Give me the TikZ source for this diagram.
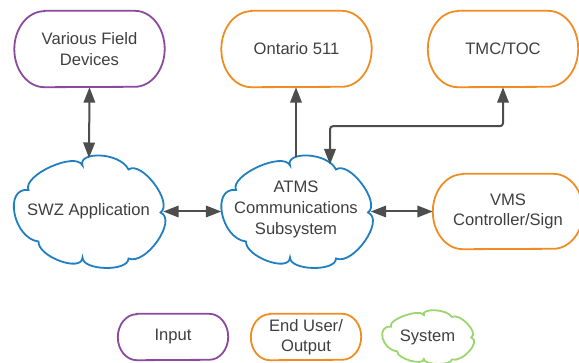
\documentclass[tikz,border=0pt]{standalone}
\usepackage{fontspec}
\setmainfont{Liberation Sans}
\usetikzlibrary{arrows.meta,calc}

\definecolor{inputpurple}{HTML}{8B4A9C}
\definecolor{userorange}{HTML}{EF8D22}
\definecolor{sysblue}{HTML}{1F7FC0}
\definecolor{sysgreen}{HTML}{9CD66E}
\definecolor{arrowgray}{HTML}{4D4D4D}
\definecolor{textgray}{HTML}{3F3F3F}

% Cloud outline centred on the origin, 150pt x 113pt at unit scale
\newcommand\cloudoutline{%
  (-6,46) .. controls (-11,60) and (30.7,60) .. (40,42)
  .. controls (53.3,51.3) and (85.3,8.3) .. (72,-1)
  .. controls (89.3,-8.3) and (57.3,-54.3) .. (40,-47)
  .. controls (40,-60.3) and (-6,-59.3) .. (-6,-46)
  .. controls (-6.7,-61.3) and (-50.7,-45.3) .. (-50,-30)
  .. controls (-75.3,-27) and (-85.3,24.5) .. (-60,21.5)
  .. controls (-66.6,36.1) and (-12.6,60.6) .. (-6,46) -- cycle}

% Terminator outline with elliptical ends round node #1: colour #2, end radii #3 x #4
\newcommand\termoutline[4]{%
  \draw[line width=1.8pt, draw=#2]
    ($(#1.north west)+(#3,0)$) -- ($(#1.north east)+(-#3,0)$)
    arc[x radius=#3, y radius=#4, start angle=90, end angle=-90]
    -- ($(#1.south west)+(#3,0)$)
    arc[x radius=#3, y radius=#4, start angle=270, end angle=90] -- cycle;}

\tikzset{
  txt/.style={text=textgray, font=\fontsize{16.6}{20.5}\selectfont, align=center, inner sep=0pt},
  pill/.style={txt, minimum width=150pt, minimum height=76pt},
  legendpill/.style={txt, minimum width=110pt, minimum height=46pt},
  cloudarea/.style={txt, minimum width=149pt, minimum height=113pt},
  cloudline/.style={line width=1.8pt, fill=white},
  conn/.style={draw=arrowgray, line width=2pt, -{Triangle[length=15.5pt,width=11.5pt]}},
  biconn/.style={draw=arrowgray, line width=2pt,
    {Triangle[length=15.5pt,width=11.5pt]}-{Triangle[length=15.5pt,width=11.5pt]}},
}

\begin{document}
\begin{tikzpicture}[x=1pt,y=1pt]
\useasboundingbox (0,0) rectangle (579,362);
\clip (0,0) rectangle (579,362);

% text areas of the clouds (outlines drawn below)
\node[cloudarea] (swz) at (88.5,150.5) {};
\node[cloudarea] (atms) at (296,150.5) {};
\node[txt, minimum width=91pt, minimum height=54pt] (sys) at (427.5,25) {};

\begin{scope}[shift={(swz.center)}]
  \draw[cloudline, draw=sysblue] \cloudoutline;
\end{scope}
\begin{scope}[shift={(atms.center)}]
  \draw[cloudline, draw=sysblue] \cloudoutline;
\end{scope}
\begin{scope}[shift={(sys.center)}, xscale=0.607, yscale=0.478]
  \draw[cloudline, draw=sysgreen] \cloudoutline;
\end{scope}

\node[txt] at (swz.center) {SWZ Application};
\node[txt, font=\fontsize{16.6}{21.2}\selectfont] at ($(atms.center)+(0,2)$) {ATMS\\Communications\\Subsystem};
\node[txt] at (sys.center) {System};

% end points and inputs
\node[pill] (vfd) at (89.5,313) {Various Field\\Devices};
\node[pill] (ont) at (296.5,313) {Ontario 511};
\node[pill] (tmc) at (503,313) {TMC/TOC};
\node[pill, minimum height=75pt] (vms) at (508,150.5) {VMS\\Controller/Sign};
\termoutline{vfd}{inputpurple}{30}{38}
\termoutline{ont}{userorange}{30}{38}
\termoutline{tmc}{userorange}{30}{38}
\termoutline{vms}{userorange}{30}{37.5}

% legend
\node[legendpill] (inp) at (173,25) {Input};
\node[legendpill] (eu) at (306,25) {End User/\\Output};
\termoutline{inp}{inputpurple}{19}{23}
\termoutline{eu}{userorange}{19}{23}

% connectors
\coordinate (swzTop) at ($(swz.center)+(0.5,53.5)$);
\coordinate (atmsTop) at ($(atms.center)+(0,54)$);
\coordinate (atmsTR) at ($(atms.center)+(34,47)$);
\draw[biconn] (vfd.south) -- (swzTop);
\draw[conn] (atmsTop) -- (atmsTop |- ont.south);
\draw[biconn, rounded corners=3pt] (tmc.south) -- ++(0,-39) -| (atmsTR);
\draw[biconn] (swz.east) -- (atms.west);
\draw[biconn] (atms.east) -- (vms.west);
\end{tikzpicture}
\end{document}
